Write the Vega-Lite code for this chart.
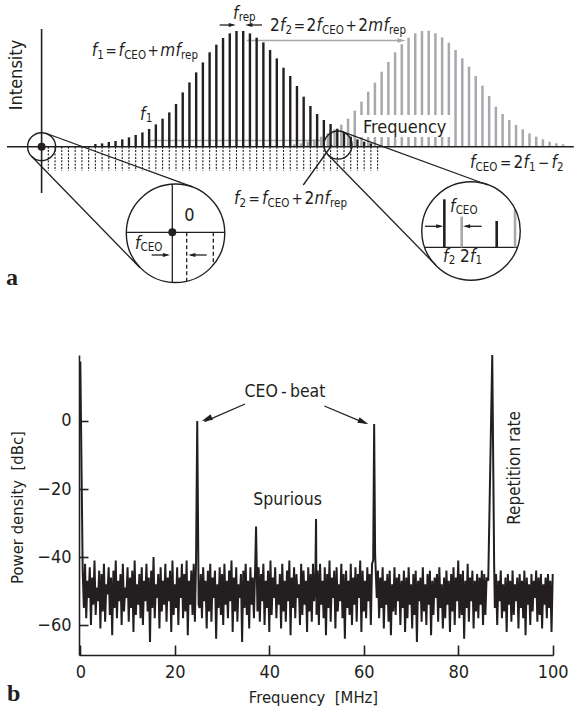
{
"$schema":"https://vega.github.io/schema/vega-lite/v6.json",
"width":474,"height":300,
"autosize":{"type":"none"},
"padding":{"left":79,"top":355,"right":21,"bottom":58},
"config":{"view":{"stroke":null},"font":"DejaVu Sans Condensed, sans-serif"},
"datasets":{
"blackComb":[{"n":8,"h":2.7},{"n":9,"h":3.3},{"n":10,"h":4.7},{"n":11,"h":5.7},{"n":12,"h":7.3},{"n":13,"h":9.3},{"n":14,"h":11.7},{"n":15,"h":14.3},{"n":16,"h":17.7},{"n":17,"h":22.3},{"n":18,"h":28},{"n":19,"h":34.3},{"n":20,"h":42.7},{"n":21,"h":54.3},{"n":22,"h":64.3},{"n":23,"h":74.3},{"n":24,"h":84.3},{"n":25,"h":94.4},{"n":26,"h":102},{"n":27,"h":108.7},{"n":28,"h":113.3},{"n":29,"h":115.7},{"n":30,"h":115.7},{"n":31,"h":113.3},{"n":32,"h":109},{"n":33,"h":104.3},{"n":34,"h":96.7},{"n":35,"h":88.3},{"n":36,"h":79},{"n":37,"h":70.7},{"n":38,"h":60.7},{"n":39,"h":50},{"n":40,"h":40.7},{"n":41,"h":32.7},{"n":42,"h":26.7},{"n":43,"h":22.7},{"n":44,"h":18},{"n":45,"h":14},{"n":46,"h":10},{"n":47,"h":7.3},{"n":48,"h":5},{"n":49,"h":3.3}],
"grayComb":[{"n":37.6,"h":2.4},{"n":38.6,"h":3.4},{"n":39.6,"h":5},{"n":40.6,"h":7.4},{"n":41.6,"h":10},{"n":42.6,"h":13.4},{"n":43.6,"h":17.4},{"n":44.6,"h":22},{"n":45.6,"h":28},{"n":46.6,"h":36},{"n":47.6,"h":45},{"n":48.6,"h":55},{"n":49.6,"h":64},{"n":50.6,"h":75},{"n":51.6,"h":84.7},{"n":52.6,"h":94.4},{"n":53.6,"h":102.4},{"n":54.6,"h":109},{"n":55.6,"h":113.4},{"n":56.6,"h":115.7},{"n":57.6,"h":116},{"n":58.6,"h":113.4},{"n":59.6,"h":109.4},{"n":60.6,"h":104},{"n":61.6,"h":96.7},{"n":62.6,"h":88.4},{"n":63.6,"h":80},{"n":64.6,"h":70.7},{"n":65.6,"h":61},{"n":66.6,"h":50.7},{"n":67.6,"h":40},{"n":68.6,"h":32.7},{"n":69.6,"h":26.7},{"n":70.6,"h":21.7},{"n":71.6,"h":17.4},{"n":72.6,"h":13.4},{"n":73.6,"h":10},{"n":74.6,"h":7.4},{"n":75.6,"h":5},{"n":76.6,"h":3.4},{"n":77.6,"h":2.4}],
"belowComb":[{"n":1},{"n":2},{"n":3},{"n":4},{"n":5},{"n":6},{"n":7},{"n":8},{"n":9},{"n":10},{"n":11},{"n":12},{"n":13},{"n":14},{"n":15},{"n":16},{"n":17},{"n":18},{"n":19},{"n":20},{"n":21},{"n":22},{"n":23},{"n":24},{"n":25},{"n":26},{"n":27},{"n":28},{"n":29},{"n":30},{"n":31},{"n":32},{"n":33},{"n":34},{"n":35},{"n":36},{"n":37},{"n":38},{"n":39},{"n":40},{"n":41},{"n":42},{"n":43},{"n":44},{"n":45},{"n":46},{"n":47},{"n":48},{"n":49},{"n":50}],
"graySegA":[{"x":15.8,"y":6.2,"x2":41.9,"y2":6.2},{"x":30.52,"y":106.2,"x2":53.5,"y2":106.2}],
"boxA":[{"x":47.23,"y":31.7,"x2":60.77,"y2":9.7}],
"axisA":[{"x":-5.15,"y":0,"x2":79.2,"y2":0},{"x":0,"y":117.7,"x2":0,"y2":-46.3}],
"segA":[{"x":0.73,"y":13.2,"x2":22.46,"y2":-40.1},{"x":-1.47,"y":-9.8,"x2":14.64,"y2":-121.1},{"x":44.82,"y":14.8,"x2":66.41,"y2":-38.3},{"x":42.62,"y":-8.1,"x2":58.68,"y2":-118.5},{"x":19.45,"y":-37.3,"x2":19.45,"y2":-136},{"x":12.56,"y":-85.6,"x2":27.29,"y2":-85.6},{"x":38.94,"y":-38.3,"x2":43.21,"y2":1.7},{"x":57.02,"y":-100.6,"x2":70.77,"y2":-100.6},{"x":26.5,"y":121.7,"x2":28.5,"y2":121.7},{"x":32.8,"y":121.7,"x2":30.7,"y2":121.7},{"x":16.38,"y":-108.3,"x2":18.7,"y2":-108.3},{"x":24.57,"y":-108.3,"x2":22.2,"y2":-108.3},{"x":57.05,"y":-79.6,"x2":59.4,"y2":-79.6},{"x":65.49,"y":-79.6,"x2":63.1,"y2":-79.6}],
"dashInset":[{"x":21.59,"y":-85.6,"x2":21.59,"y2":-134.8},{"x":25.55,"y":-85.6,"x2":25.55,"y2":-118.6}],
"insetBlack":[{"x":59.93,"y":-100.6,"y2":-52.6},{"x":67.72,"y":-100.6,"y2":-74.3}],
"insetGray":[{"x":62.51,"y":-100.6,"y2":-70},{"x":70.45,"y":-100.6,"y2":-62.7}],
"bigCircles":[{"x":19.93,"y":-86.6},{"x":63.9,"y":-84.3}],
"smallCircles":[{"x":0,"y":0},{"x":44.11,"y":1.7}],
"dotsA":[{"x":0,"y":0},{"x":19.45,"y":-85.6}],
"headsRight":[{"x":28.9,"y":121.7},{"x":19.11,"y":-108.3},{"x":59.78,"y":-79.6}],
"headsLeft":[{"x":30.3,"y":121.7},{"x":21.83,"y":-108.3},{"x":62.71,"y":-79.6}],
"grayHead":[{"x":54.2,"y":106.2}],
"textItA":[{"x":7.46,"y":90.7,"t":"f"},{"x":11.44,"y":90.7,"t":"f"},{"x":17.67,"y":90.7,"t":"m"},{"x":19.92,"y":90.7,"t":"f"},{"x":28.48,"y":127.7,"t":"f"},{"x":35.48,"y":115.7,"t":"f"},{"x":40.91,"y":115.7,"t":"f"},{"x":48.62,"y":115.7,"t":"m"},{"x":50.88,"y":115.7,"t":"f"},{"x":14.64,"y":26.7,"t":"f"},{"x":63.75,"y":-21.3,"t":"f"},{"x":71.71,"y":-21.3,"t":"f"},{"x":75.88,"y":-21.3,"t":"f"},{"x":28.63,"y":-57.3,"t":"f"},{"x":32.8,"y":-57.3,"t":"f"},{"x":40.61,"y":-57.3,"t":"n"},{"x":42.1,"y":-57.3,"t":"f"},{"x":13.9,"y":-102.3,"t":"f"},{"x":60.77,"y":-65.3,"t":"f"},{"x":59.73,"y":-115.3,"t":"f"},{"x":63.75,"y":-115.3,"t":"f"}],
"textDigA":[{"x":33.99,"y":115.7,"t":"2"},{"x":39.42,"y":115.7,"t":"2"},{"x":47.13,"y":115.7,"t":"2"},{"x":70.22,"y":-21.3,"t":"2"},{"x":39.12,"y":-57.3,"t":"2"},{"x":62.26,"y":-115.3,"t":"2"}],
"textOpA":[{"x":9.51,"y":90.7,"t":"="},{"x":15.76,"y":90.7,"t":"+"},{"x":37.51,"y":115.7,"t":"="},{"x":45.22,"y":115.7,"t":"+"},{"x":68.21,"y":-21.3,"t":"="},{"x":73.87,"y":-21.3,"t":"−"},{"x":30.79,"y":-57.3,"t":"="},{"x":37.18,"y":-57.3,"t":"+"}],
"textSubA":[{"x":8.29,"y":87.7,"t":"1"},{"x":12.28,"y":87.7,"t":"CEO"},{"x":20.76,"y":87.7,"t":"rep"},{"x":29.32,"y":125.7,"t":"rep"},{"x":36.31,"y":112.7,"t":"2"},{"x":41.74,"y":112.7,"t":"CEO"},{"x":51.71,"y":112.7,"t":"rep"},{"x":15.48,"y":24.7,"t":"1"},{"x":64.58,"y":-24.3,"t":"CEO"},{"x":72.54,"y":-24.3,"t":"1"},{"x":76.71,"y":-24.3,"t":"2"},{"x":29.46,"y":-60.3,"t":"2"},{"x":33.63,"y":-60.3,"t":"CEO"},{"x":42.93,"y":-60.3,"t":"rep"},{"x":14.73,"y":-104.3,"t":"CEO"},{"x":61.61,"y":-67.3,"t":"CEO"},{"x":60.57,"y":-117.3,"t":"2"},{"x":64.58,"y":-117.3,"t":"1"}],
"textWordA":[{"x":47.82,"y":13.7,"t":"Frequency"}],
"textZeroA":[{"x":21.98,"y":-74.3,"t":"0"}],
"textRotA":[{"x":-3.66,"y":71.7,"t":"Intensity"}],
"labelA":[{"x":-5.3,"y":-138.3,"t":"a"}],
"arrowB":[{"x":34.86,"y":5.0,"x2":26.3,"y2":-0.2},{"x":51.65,"y":4.4,"x2":60.4,"y2":-0.7}],
"headB1":[{"x":25.7,"y":0}],
"headB2":[{"x":60.97,"y":-0.9}],
"textB":[{"x":43.33,"y":8.5,"t":"CEO\u2009-\u2009beat"},{"x":43.86,"y":-23.2,"t":"Spurious"}],
"rotB":[{"x":92.02,"y":-13.8,"t":"Repetition rate"}],
"labelB":[{"x":-15.52,"y":-82.35,"t":"b"}],
"spectrum":[{"f":0,"p":17.5},
{"f":0.5,"p":-44},{"f":0.75,"p":-55},{"f":1,"p":-42},{"f":1.25,"p":-58},{"f":1.5,"p":-47},{"f":1.75,"p":-52},{"f":2,"p":-43},{"f":2.25,"p":-60},{"f":2.5,"p":-46},{"f":2.75,"p":-54},
{"f":3,"p":-41},{"f":3.25,"p":-57},{"f":3.5,"p":-49},{"f":3.75,"p":-53},{"f":4,"p":-44},{"f":4.25,"p":-61},{"f":4.5,"p":-45},{"f":4.75,"p":-56},{"f":5,"p":-42},{"f":5.25,"p":-59},
{"f":5.5,"p":-48},{"f":5.75,"p":-51},{"f":6,"p":-43},{"f":6.25,"p":-57},{"f":6.5,"p":-46},{"f":6.75,"p":-63},{"f":7,"p":-44},{"f":7.25,"p":-55},{"f":7.5,"p":-41},{"f":7.75,"p":-58},
{"f":8,"p":-47},{"f":8.25,"p":-53},{"f":8.5,"p":-45},{"f":8.75,"p":-60},{"f":9,"p":-42},{"f":9.25,"p":-56},{"f":9.5,"p":-49},{"f":9.75,"p":-52},{"f":10,"p":-43},{"f":10.25,"p":-59},
{"f":10.5,"p":-46},{"f":10.75,"p":-55},{"f":11,"p":-44},{"f":11.25,"p":-62},{"f":11.5,"p":-41},{"f":11.75,"p":-57},{"f":12,"p":-48},{"f":12.25,"p":-54},{"f":12.5,"p":-45},{"f":12.75,"p":-58},
{"f":13,"p":-43},{"f":13.25,"p":-60},{"f":13.5,"p":-47},{"f":13.75,"p":-53},{"f":14,"p":-42},{"f":14.25,"p":-56},{"f":14.5,"p":-46},{"f":14.75,"p":-65},{"f":15,"p":-44},{"f":15.25,"p":-55},
{"f":15.5,"p":-40},{"f":15.75,"p":-58},{"f":16,"p":-48},{"f":16.25,"p":-52},{"f":16.5,"p":-45},{"f":16.75,"p":-61},{"f":17,"p":-43},{"f":17.25,"p":-56},{"f":17.5,"p":-47},{"f":17.75,"p":-54},
{"f":18,"p":-42},{"f":18.25,"p":-59},{"f":18.5,"p":-46},{"f":18.75,"p":-53},{"f":19,"p":-44},{"f":19.25,"p":-62},{"f":19.5,"p":-41},{"f":19.75,"p":-57},{"f":20,"p":-48},{"f":20.25,"p":-55},
{"f":20.5,"p":-43},{"f":20.75,"p":-60},{"f":21,"p":-46},{"f":21.25,"p":-52},{"f":21.5,"p":-42},{"f":21.75,"p":-58},{"f":22,"p":-45},{"f":22.25,"p":-56},{"f":22.5,"p":-41},{"f":22.75,"p":-63},
{"f":23,"p":-47},{"f":23.25,"p":-54},{"f":23.5,"p":-44},{"f":23.75,"p":-57},{"f":24,"p":-42},{"f":24.25,"p":-59},
{"f":24.5,"p":-41},{"f":24.75,"p":0},{"f":25.05,"p":-54},
{"f":25.25,"p":-55},{"f":25.5,"p":-45},{"f":25.75,"p":-58},{"f":26,"p":-43},{"f":26.25,"p":-53},{"f":26.5,"p":-47},{"f":26.75,"p":-61},{"f":27,"p":-44},{"f":27.25,"p":-56},{"f":27.5,"p":-42},
{"f":27.75,"p":-59},{"f":28,"p":-46},{"f":28.25,"p":-52},{"f":28.5,"p":-44},{"f":28.75,"p":-64},{"f":29,"p":-48},{"f":29.25,"p":-55},{"f":29.5,"p":-43},{"f":29.75,"p":-57},{"f":30,"p":-45},
{"f":30.25,"p":-60},{"f":30.5,"p":-42},{"f":30.75,"p":-54},{"f":31,"p":-47},{"f":31.25,"p":-58},{"f":31.5,"p":-44},{"f":31.75,"p":-53},{"f":32,"p":-41},{"f":32.25,"p":-62},{"f":32.5,"p":-46},
{"f":32.75,"p":-56},{"f":33,"p":-43},{"f":33.25,"p":-59},{"f":33.5,"p":-48},{"f":33.75,"p":-52},{"f":34,"p":-45},{"f":34.25,"p":-65},{"f":34.5,"p":-44},{"f":34.75,"p":-55},{"f":35,"p":-42},
{"f":35.25,"p":-57},{"f":35.5,"p":-47},{"f":35.75,"p":-61},{"f":36,"p":-43},{"f":36.25,"p":-54},{"f":36.5,"p":-46},{"f":36.75,"p":-58},{"f":37,"p":-44},
{"f":37.2,"p":-31},
{"f":37.5,"p":-56},{"f":37.75,"p":-43},{"f":38,"p":-59},{"f":38.25,"p":-45},{"f":38.5,"p":-53},{"f":38.75,"p":-42},{"f":39,"p":-60},{"f":39.25,"p":-47},{"f":39.5,"p":-55},{"f":39.75,"p":-44},
{"f":40,"p":-62},{"f":40.25,"p":-41},{"f":40.5,"p":-57},{"f":40.75,"p":-46},{"f":41,"p":-52},{"f":41.25,"p":-43},{"f":41.5,"p":-58},{"f":41.75,"p":-48},{"f":42,"p":-54},{"f":42.25,"p":-45},
{"f":42.5,"p":-61},{"f":42.75,"p":-42},{"f":43,"p":-56},{"f":43.25,"p":-47},{"f":43.5,"p":-59},{"f":43.75,"p":-44},{"f":44,"p":-53},{"f":44.25,"p":-41},{"f":44.5,"p":-63},{"f":44.75,"p":-46},
{"f":45,"p":-55},{"f":45.25,"p":-43},{"f":45.5,"p":-58},{"f":45.75,"p":-45},{"f":46,"p":-52},{"f":46.25,"p":-48},{"f":46.5,"p":-60},{"f":46.75,"p":-42},{"f":47,"p":-57},{"f":47.25,"p":-44},
{"f":47.5,"p":-54},{"f":47.75,"p":-47},{"f":48,"p":-62},{"f":48.25,"p":-43},{"f":48.5,"p":-56},{"f":48.75,"p":-45},{"f":49,"p":-59},{"f":49.25,"p":-42},{"f":49.5,"p":-53},{"f":49.75,"p":-46},
{"f":49.9,"p":-28.8},
{"f":50,"p":-57},{"f":50.25,"p":-44},{"f":50.5,"p":-60},{"f":50.75,"p":-42},{"f":51,"p":-54},{"f":51.25,"p":-47},{"f":51.5,"p":-58},{"f":51.75,"p":-43},{"f":52,"p":-63},{"f":52.25,"p":-45},
{"f":52.5,"p":-55},{"f":52.75,"p":-41},{"f":53,"p":-59},{"f":53.25,"p":-46},{"f":53.5,"p":-52},{"f":53.75,"p":-44},{"f":54,"p":-61},{"f":54.25,"p":-43},{"f":54.5,"p":-56},{"f":54.75,"p":-48},
{"f":55,"p":-53},{"f":55.25,"p":-42},{"f":55.5,"p":-58},{"f":55.75,"p":-45},{"f":56,"p":-64},{"f":56.25,"p":-44},{"f":56.5,"p":-55},{"f":56.75,"p":-47},{"f":57,"p":-57},{"f":57.25,"p":-42},
{"f":57.5,"p":-60},{"f":57.75,"p":-46},{"f":58,"p":-54},{"f":58.25,"p":-43},{"f":58.5,"p":-59},{"f":58.75,"p":-45},{"f":59,"p":-52},{"f":59.25,"p":-41},{"f":59.5,"p":-62},{"f":59.75,"p":-44},
{"f":60,"p":-56},{"f":60.25,"p":-47},{"f":60.5,"p":-58},{"f":60.75,"p":-43},{"f":61,"p":-53},{"f":61.25,"p":-45},{"f":61.5,"p":-60},{"f":61.75,"p":-42},
{"f":62.0,"p":-41},{"f":62.2,"p":-0.9},{"f":62.4,"p":-39},
{"f":62.75,"p":-52},{"f":63,"p":-44},{"f":63.25,"p":-58},{"f":63.5,"p":-46},{"f":63.75,"p":-55},{"f":64,"p":-43},{"f":64.25,"p":-61},{"f":64.5,"p":-47},{"f":64.75,"p":-54},{"f":65,"p":-45},
{"f":65.25,"p":-59},{"f":65.5,"p":-44},{"f":65.75,"p":-63},{"f":66,"p":-48},{"f":66.25,"p":-56},{"f":66.5,"p":-43},{"f":66.75,"p":-57},{"f":67,"p":-46},{"f":67.25,"p":-53},{"f":67.5,"p":-45},
{"f":67.75,"p":-60},{"f":68,"p":-47},{"f":68.25,"p":-55},{"f":68.5,"p":-44},{"f":68.75,"p":-62},{"f":69,"p":-46},{"f":69.25,"p":-58},{"f":69.5,"p":-43},{"f":69.75,"p":-54},{"f":70,"p":-48},
{"f":70.25,"p":-61},{"f":70.5,"p":-45},{"f":70.75,"p":-57},{"f":71,"p":-44},{"f":71.25,"p":-65},{"f":71.5,"p":-47},{"f":71.75,"p":-53},{"f":72,"p":-46},{"f":72.25,"p":-59},{"f":72.5,"p":-43},
{"f":72.75,"p":-56},{"f":73,"p":-48},{"f":73.25,"p":-60},{"f":73.5,"p":-45},{"f":73.75,"p":-54},{"f":74,"p":-44},{"f":74.25,"p":-63},{"f":74.5,"p":-47},{"f":74.75,"p":-57},{"f":75,"p":-46},
{"f":75.25,"p":-52},{"f":75.5,"p":-45},{"f":75.75,"p":-59},{"f":76,"p":-43},{"f":76.25,"p":-55},{"f":76.5,"p":-48},{"f":76.75,"p":-61},{"f":77,"p":-46},{"f":77.25,"p":-58},{"f":77.5,"p":-44},
{"f":77.75,"p":-54},{"f":78,"p":-47},{"f":78.25,"p":-62},{"f":78.5,"p":-45},{"f":78.75,"p":-56},{"f":79,"p":-43},{"f":79.25,"p":-60},{"f":79.5,"p":-46},{"f":79.75,"p":-53},{"f":80,"p":-41},
{"f":80.25,"p":-58},{"f":80.5,"p":-45},{"f":80.75,"p":-57},{"f":81,"p":-44},{"f":81.25,"p":-64},{"f":81.5,"p":-47},{"f":81.75,"p":-55},{"f":82,"p":-42},{"f":82.25,"p":-59},{"f":82.5,"p":-46},
{"f":82.75,"p":-53},{"f":83,"p":-44},{"f":83.25,"p":-61},{"f":83.5,"p":-47},{"f":83.75,"p":-56},{"f":84,"p":-45},{"f":84.25,"p":-58},{"f":84.5,"p":-46},{"f":84.75,"p":-54},{"f":85,"p":-44},
{"f":85.25,"p":-60},{"f":85.5,"p":-45},{"f":85.75,"p":-57},{"f":86,"p":-46},
{"f":86.35,"p":-47},{"f":87.2,"p":19.4},{"f":87.6,"p":-42},
{"f":87.75,"p":-55},{"f":88,"p":-45},{"f":88.25,"p":-60},{"f":88.5,"p":-47},{"f":88.75,"p":-53},{"f":89,"p":-44},{"f":89.25,"p":-58},{"f":89.5,"p":-48},{"f":89.75,"p":-56},{"f":90,"p":-46},
{"f":90.25,"p":-62},{"f":90.5,"p":-45},{"f":90.75,"p":-54},{"f":91,"p":-47},{"f":91.25,"p":-59},{"f":91.5,"p":-44},{"f":91.75,"p":-57},{"f":92,"p":-48},{"f":92.25,"p":-53},{"f":92.5,"p":-46},
{"f":92.75,"p":-61},{"f":93,"p":-45},{"f":93.25,"p":-55},{"f":93.5,"p":-47},{"f":93.75,"p":-58},{"f":94,"p":-44},{"f":94.25,"p":-63},{"f":94.5,"p":-46},{"f":94.75,"p":-54},{"f":95,"p":-48},
{"f":95.25,"p":-60},{"f":95.5,"p":-45},{"f":95.75,"p":-56},{"f":96,"p":-47},{"f":96.25,"p":-52},{"f":96.5,"p":-44},{"f":96.75,"p":-59},{"f":97,"p":-46},{"f":97.25,"p":-57},{"f":97.5,"p":-45},
{"f":97.75,"p":-61},{"f":98,"p":-48},{"f":98.25,"p":-54},{"f":98.5,"p":-46},{"f":98.75,"p":-58},{"f":99,"p":-45},{"f":99.25,"p":-55},{"f":99.5,"p":-47},{"f":99.75,"p":-62},
{"f":100,"p":-45}]
},
"layer":[
{"data":{"name":"spectrum"},"mark":{"type":"line","color":"#231f20","strokeWidth":2},
 "encoding":{
  "x":{"field":"f","type":"quantitative","scale":{"domain":[-0.28,100.06],"nice":false,"zero":false},
   "axis":{"orient":"bottom","values":[0,20,40,60,80,100],"grid":false,"domainColor":"#231f20","domainWidth":1.6,"tickColor":"#231f20","tickWidth":1.6,"tickSize":-10,"labelPadding":18,"labelFontSize":18,"labelColor":"#231f20","labelFlush":false,"title":"Frequency \u00a0[MHz]","titleFontSize":16.5,"titleFontWeight":"normal","titleColor":"#231f20","titleX":234,"titleY":42,"titleBaseline":"middle","titleAlign":"center"}},
  "y":{"field":"p","type":"quantitative","scale":{"domain":[-68.8,19.4],"nice":false,"zero":false},
   "axis":{"orient":"left","values":[-60,-40,-20,0],"grid":false,"domainColor":"#231f20","domainWidth":1.6,"tickColor":"#231f20","tickWidth":1.6,"tickSize":-9,"labelPadding":17,"labelFontSize":18,"labelColor":"#231f20","labelFlush":false,"title":"Power density \u00a0[dBc]","titleFontSize":16.5,"titleFontWeight":"normal","titleColor":"#231f20","titleX":-62,"titleY":152,"titleBaseline":"middle","titleAlign":"center","titleAngle":270}}}},
{"layer":[
{"data":{"name":"grayComb"},"mark":{"type":"rule","color":"#a7a9ac","strokeWidth":2.5},
 "encoding":{"x":{"field":"n","type":"quantitative","scale":{"domain":[5.565,76.1],"nice":false,"zero":false},"axis":null},
  "y":{"field":"h","type":"quantitative","scale":{"domain":[-508.3,-208.3],"nice":false,"zero":false},"axis":null},
  "y2":{"datum":0}}},
{"data":{"name":"graySegA"},"mark":{"type":"rule","color":"#a7a9ac","strokeWidth":1.5},
 "encoding":{"x":{"field":"x","type":"quantitative","scale":{"domain":[5.565,76.1],"nice":false,"zero":false},"axis":null},
  "y":{"field":"y","type":"quantitative","scale":{"domain":[-508.3,-208.3],"nice":false,"zero":false},"axis":null},
  "x2":{"field":"x2"},"y2":{"field":"y2"}}},
{"data":{"name":"blackComb"},"mark":{"type":"rule","color":"#231f20","strokeWidth":2.4},
 "encoding":{"x":{"field":"n","type":"quantitative","scale":{"domain":[5.565,76.1],"nice":false,"zero":false},"axis":null},
  "y":{"field":"h","type":"quantitative","scale":{"domain":[-508.3,-208.3],"nice":false,"zero":false},"axis":null},
  "y2":{"datum":0}}},
{"data":{"name":"boxA"},"mark":{"type":"rect","color":"white"},
 "encoding":{"x":{"field":"x","type":"quantitative","scale":{"domain":[5.565,76.1],"nice":false,"zero":false},"axis":null},
  "y":{"field":"y","type":"quantitative","scale":{"domain":[-508.3,-208.3],"nice":false,"zero":false},"axis":null},
  "x2":{"field":"x2"},"y2":{"field":"y2"}}},
{"data":{"name":"belowComb"},"mark":{"type":"rule","color":"#231f20","strokeWidth":1.1,"strokeDash":[2,1.4]},
 "encoding":{"x":{"field":"n","type":"quantitative","scale":{"domain":[5.565,76.1],"nice":false,"zero":false},"axis":null},
  "y":{"datum":0,"scale":{"domain":[-508.3,-208.3],"nice":false,"zero":false},"axis":null},
  "y2":{"datum":-24.3}}},
{"data":{"name":"axisA"},"mark":{"type":"rule","color":"#231f20","strokeWidth":1.6},
 "encoding":{"x":{"field":"x","type":"quantitative","scale":{"domain":[5.565,76.1],"nice":false,"zero":false},"axis":null},
  "y":{"field":"y","type":"quantitative","scale":{"domain":[-508.3,-208.3],"nice":false,"zero":false},"axis":null},
  "x2":{"field":"x2"},"y2":{"field":"y2"}}},
{"data":{"name":"segA"},"mark":{"type":"rule","color":"#231f20","strokeWidth":1.3},
 "encoding":{"x":{"field":"x","type":"quantitative","scale":{"domain":[5.565,76.1],"nice":false,"zero":false},"axis":null},
  "y":{"field":"y","type":"quantitative","scale":{"domain":[-508.3,-208.3],"nice":false,"zero":false},"axis":null},
  "x2":{"field":"x2"},"y2":{"field":"y2"}}},
{"data":{"name":"dashInset"},"mark":{"type":"rule","color":"#231f20","strokeWidth":1.3,"strokeDash":[4,2.5]},
 "encoding":{"x":{"field":"x","type":"quantitative","scale":{"domain":[5.565,76.1],"nice":false,"zero":false},"axis":null},
  "y":{"field":"y","type":"quantitative","scale":{"domain":[-508.3,-208.3],"nice":false,"zero":false},"axis":null},
  "x2":{"field":"x2"},"y2":{"field":"y2"}}},
{"data":{"name":"insetBlack"},"mark":{"type":"rule","color":"#231f20","strokeWidth":2.6},
 "encoding":{"x":{"field":"x","type":"quantitative","scale":{"domain":[5.565,76.1],"nice":false,"zero":false},"axis":null},
  "y":{"field":"y","type":"quantitative","scale":{"domain":[-508.3,-208.3],"nice":false,"zero":false},"axis":null},
  "y2":{"field":"y2"}}},
{"data":{"name":"insetGray"},"mark":{"type":"rule","color":"#a7a9ac","strokeWidth":2.6},
 "encoding":{"x":{"field":"x","type":"quantitative","scale":{"domain":[5.565,76.1],"nice":false,"zero":false},"axis":null},
  "y":{"field":"y","type":"quantitative","scale":{"domain":[-508.3,-208.3],"nice":false,"zero":false},"axis":null},
  "y2":{"field":"y2"}}},
{"data":{"name":"bigCircles"},"mark":{"type":"point","shape":"circle","filled":false,"color":"#231f20","strokeWidth":1.4,"size":9700,"opacity":1},
 "encoding":{"x":{"field":"x","type":"quantitative","scale":{"domain":[5.565,76.1],"nice":false,"zero":false},"axis":null},
  "y":{"field":"y","type":"quantitative","scale":{"domain":[-508.3,-208.3],"nice":false,"zero":false},"axis":null}}},
{"data":{"name":"smallCircles"},"mark":{"type":"point","shape":"circle","filled":false,"color":"#231f20","strokeWidth":1.4,"size":784,"opacity":1},
 "encoding":{"x":{"field":"x","type":"quantitative","scale":{"domain":[5.565,76.1],"nice":false,"zero":false},"axis":null},
  "y":{"field":"y","type":"quantitative","scale":{"domain":[-508.3,-208.3],"nice":false,"zero":false},"axis":null}}},
{"data":{"name":"dotsA"},"mark":{"type":"point","shape":"circle","filled":true,"color":"#231f20","size":64,"opacity":1},
 "encoding":{"x":{"field":"x","type":"quantitative","scale":{"domain":[5.565,76.1],"nice":false,"zero":false},"axis":null},
  "y":{"field":"y","type":"quantitative","scale":{"domain":[-508.3,-208.3],"nice":false,"zero":false},"axis":null}}},
{"data":{"name":"headsRight"},"mark":{"type":"point","shape":"M0,0L-1.6,-0.45L-1.6,0.45Z","filled":true,"color":"#231f20","size":80,"opacity":1},
 "encoding":{"x":{"field":"x","type":"quantitative","scale":{"domain":[5.565,76.1],"nice":false,"zero":false},"axis":null},
  "y":{"field":"y","type":"quantitative","scale":{"domain":[-508.3,-208.3],"nice":false,"zero":false},"axis":null}}},
{"data":{"name":"headsLeft"},"mark":{"type":"point","shape":"M0,0L1.6,-0.45L1.6,0.45Z","filled":true,"color":"#231f20","size":80,"opacity":1},
 "encoding":{"x":{"field":"x","type":"quantitative","scale":{"domain":[5.565,76.1],"nice":false,"zero":false},"axis":null},
  "y":{"field":"y","type":"quantitative","scale":{"domain":[-508.3,-208.3],"nice":false,"zero":false},"axis":null}}},
{"data":{"name":"grayHead"},"mark":{"type":"point","shape":"M0,0L-1.6,-0.45L-1.6,0.45Z","filled":true,"color":"#a7a9ac","size":110,"opacity":1},
 "encoding":{"x":{"field":"x","type":"quantitative","scale":{"domain":[5.565,76.1],"nice":false,"zero":false},"axis":null},
  "y":{"field":"y","type":"quantitative","scale":{"domain":[-508.3,-208.3],"nice":false,"zero":false},"axis":null}}},
{"data":{"name":"textItA"},"mark":{"type":"text","fontStyle":"italic","fontSize":17,"align":"left","baseline":"alphabetic","color":"#231f20"},
 "encoding":{"x":{"field":"x","type":"quantitative","scale":{"domain":[5.565,76.1],"nice":false,"zero":false},"axis":null},
  "y":{"field":"y","type":"quantitative","scale":{"domain":[-508.3,-208.3],"nice":false,"zero":false},"axis":null},
  "text":{"field":"t"}}},
{"data":{"name":"textDigA"},"mark":{"type":"text","fontSize":17,"align":"left","baseline":"alphabetic","color":"#231f20"},
 "encoding":{"x":{"field":"x","type":"quantitative","scale":{"domain":[5.565,76.1],"nice":false,"zero":false},"axis":null},
  "y":{"field":"y","type":"quantitative","scale":{"domain":[-508.3,-208.3],"nice":false,"zero":false},"axis":null},
  "text":{"field":"t"}}},
{"data":{"name":"textOpA"},"mark":{"type":"text","fontSize":15,"align":"left","baseline":"alphabetic","color":"#231f20"},
 "encoding":{"x":{"field":"x","type":"quantitative","scale":{"domain":[5.565,76.1],"nice":false,"zero":false},"axis":null},
  "y":{"field":"y","type":"quantitative","scale":{"domain":[-508.3,-208.3],"nice":false,"zero":false},"axis":null},
  "text":{"field":"t"}}},
{"data":{"name":"textSubA"},"mark":{"type":"text","fontSize":11.5,"align":"left","baseline":"alphabetic","color":"#231f20"},
 "encoding":{"x":{"field":"x","type":"quantitative","scale":{"domain":[5.565,76.1],"nice":false,"zero":false},"axis":null},
  "y":{"field":"y","type":"quantitative","scale":{"domain":[-508.3,-208.3],"nice":false,"zero":false},"axis":null},
  "text":{"field":"t"}}},
{"data":{"name":"textWordA"},"mark":{"type":"text","fontSize":18,"align":"left","baseline":"alphabetic","color":"#231f20"},
 "encoding":{"x":{"field":"x","type":"quantitative","scale":{"domain":[5.565,76.1],"nice":false,"zero":false},"axis":null},
  "y":{"field":"y","type":"quantitative","scale":{"domain":[-508.3,-208.3],"nice":false,"zero":false},"axis":null},
  "text":{"field":"t"}}},
{"data":{"name":"textZeroA"},"mark":{"type":"text","fontSize":18,"align":"center","baseline":"alphabetic","color":"#231f20"},
 "encoding":{"x":{"field":"x","type":"quantitative","scale":{"domain":[5.565,76.1],"nice":false,"zero":false},"axis":null},
  "y":{"field":"y","type":"quantitative","scale":{"domain":[-508.3,-208.3],"nice":false,"zero":false},"axis":null},
  "text":{"field":"t"}}},
{"data":{"name":"textRotA"},"mark":{"type":"text","fontSize":18,"align":"center","baseline":"middle","angle":270,"color":"#231f20"},
 "encoding":{"x":{"field":"x","type":"quantitative","scale":{"domain":[5.565,76.1],"nice":false,"zero":false},"axis":null},
  "y":{"field":"y","type":"quantitative","scale":{"domain":[-508.3,-208.3],"nice":false,"zero":false},"axis":null},
  "text":{"field":"t"}}},
{"data":{"name":"labelA"},"mark":{"type":"text","font":"Liberation Serif, DejaVu Serif, serif","fontWeight":"bold","fontSize":24,"align":"left","baseline":"alphabetic","color":"#231f20"},
 "encoding":{"x":{"field":"x","type":"quantitative","scale":{"domain":[5.565,76.1],"nice":false,"zero":false},"axis":null},
  "y":{"field":"y","type":"quantitative","scale":{"domain":[-508.3,-208.3],"nice":false,"zero":false},"axis":null},
  "text":{"field":"t"}}}
]},
{"layer":[
{"data":{"name":"arrowB"},"mark":{"type":"rule","color":"#231f20","strokeWidth":1.3},
 "encoding":{"x":{"field":"x","type":"quantitative","scale":{"domain":[-0.28,100.06],"nice":false,"zero":false},"axis":null},
  "y":{"field":"y","type":"quantitative","scale":{"domain":[-68.8,19.4],"nice":false,"zero":false},"axis":null},
  "x2":{"field":"x2"},"y2":{"field":"y2"}}},
{"data":{"name":"headB1"},"mark":{"type":"point","shape":"M0,0L-0.45,1.6L0.45,1.6Z","angle":248.6,"filled":true,"color":"#231f20","size":180,"opacity":1},
 "encoding":{"x":{"field":"x","type":"quantitative","scale":{"domain":[-0.28,100.06],"nice":false,"zero":false},"axis":null},
  "y":{"field":"y","type":"quantitative","scale":{"domain":[-68.8,19.4],"nice":false,"zero":false},"axis":null}}},
{"data":{"name":"headB2"},"mark":{"type":"point","shape":"M0,0L-0.45,1.6L0.45,1.6Z","angle":112.3,"filled":true,"color":"#231f20","size":180,"opacity":1},
 "encoding":{"x":{"field":"x","type":"quantitative","scale":{"domain":[-0.28,100.06],"nice":false,"zero":false},"axis":null},
  "y":{"field":"y","type":"quantitative","scale":{"domain":[-68.8,19.4],"nice":false,"zero":false},"axis":null}}},
{"data":{"name":"textB"},"mark":{"type":"text","fontSize":17.5,"align":"center","baseline":"middle","color":"#231f20"},
 "encoding":{"x":{"field":"x","type":"quantitative","scale":{"domain":[-0.28,100.06],"nice":false,"zero":false},"axis":null},
  "y":{"field":"y","type":"quantitative","scale":{"domain":[-68.8,19.4],"nice":false,"zero":false},"axis":null},
  "text":{"field":"t"}}},
{"data":{"name":"rotB"},"mark":{"type":"text","fontSize":17,"align":"center","baseline":"middle","angle":270,"color":"#231f20"},
 "encoding":{"x":{"field":"x","type":"quantitative","scale":{"domain":[-0.28,100.06],"nice":false,"zero":false},"axis":null},
  "y":{"field":"y","type":"quantitative","scale":{"domain":[-68.8,19.4],"nice":false,"zero":false},"axis":null},
  "text":{"field":"t"}}},
{"data":{"name":"labelB"},"mark":{"type":"text","font":"Liberation Serif, DejaVu Serif, serif","fontWeight":"bold","fontSize":24,"align":"left","baseline":"alphabetic","color":"#231f20"},
 "encoding":{"x":{"field":"x","type":"quantitative","scale":{"domain":[-0.28,100.06],"nice":false,"zero":false},"axis":null},
  "y":{"field":"y","type":"quantitative","scale":{"domain":[-68.8,19.4],"nice":false,"zero":false},"axis":null},
  "text":{"field":"t"}}}
]}
],
"resolve":{"scale":{"x":"independent","y":"independent"}}
}
